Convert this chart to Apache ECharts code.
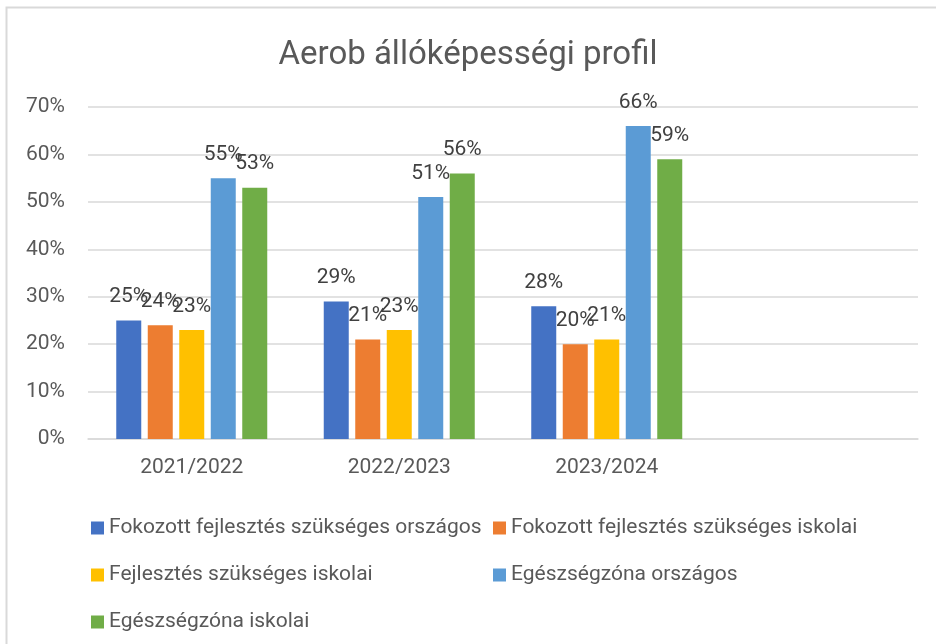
<!DOCTYPE html>
<html>
<head>
<meta charset="utf-8">
<title>Aerob állóképességi profil</title>
<script src="https://cdn.jsdelivr.net/npm/echarts@6/dist/echarts.min.js"></script>
<style>
  html, body { margin: 0; padding: 0; background: #fff; }
  #chart { width: 936px; height: 644px; }
</style>
</head>
<body>
<div id="chart"></div>
<script>
// tanévek (a negyedik kategória üres, mint az eredetin)
var categories = ['2021/2022', '2022/2023', '2023/2024', ''];
var seriesNames = [
  'Fokozott fejlesztés szükséges országos',
  'Fokozott fejlesztés szükséges iskolai',
  'Fejlesztés szükséges iskolai',
  'Egészségzóna országos',
  'Egészségzóna iskolai'
];
var fokozottOrszagos = [25, 29, 28];
var fokozottIskolai = [24, 21, 20];
var fejlesztesIskolai = [23, 23, 21];
var egeszsegOrszagos = [55, 51, 66];
var egeszsegIskolai = [53, 56, 59];
var yTicks = [0, 10, 20, 30, 40, 50, 60, 70];

var colors = ['#4472C4', '#ED7D31', '#FFC000', '#5B9BD5', '#70AD47'];
var values = [fokozottOrszagos, fokozottIskolai, fejlesztesIskolai, egeszsegOrszagos, egeszsegIskolai];
var font = 'Roboto, "Noto Sans", sans-serif';

var series = [];
for (var i = 0; i < seriesNames.length; i++) {
  series.push({
    name: seriesNames[i],
    type: 'bar',
    data: values[i],
    barWidth: 25,
    barGap: '26%',
    itemStyle: { color: colors[i] },
    label: {
      show: true,
      position: 'top',
      distance: 13,
      formatter: '{c}%',
      color: '#404040',
      fontSize: 21,
      fontFamily: font
    }
  });
}

var chart = echarts.init(document.getElementById('chart'));
chart.setOption({
  animation: false,
  color: colors,
  title: {
    text: 'Aerob állóképességi profil',
    left: 'center',
    top: 34,
    textStyle: { color: '#595959', fontSize: 33, fontWeight: 'normal', fontFamily: font }
  },
  graphic: [{
    type: 'rect',
    shape: { x: 6.5, y: 7.5, width: 960, height: 660 },
    style: { fill: 'none', stroke: '#D9D9D9', lineWidth: 2 },
    silent: true
  }],
  grid: { left: 88, right: 18, top: 107, bottom: 205 },
  xAxis: {
    type: 'category',
    data: categories,
    axisLine: { lineStyle: { color: '#D9D9D9', width: 1.5 } },
    axisTick: { show: false },
    axisLabel: { color: '#595959', fontSize: 21, margin: 18, fontFamily: font }
  },
  yAxis: {
    type: 'value',
    min: yTicks[0],
    max: yTicks[yTicks.length - 1],
    interval: 10,
    axisLine: { show: false },
    axisTick: { show: false },
    splitLine: { lineStyle: { color: '#D9D9D9', width: 1.5 } },
    axisLabel: { color: '#595959', fontSize: 21, margin: 23, formatter: '{value}%', fontFamily: font }
  },
  legend: [{
    orient: 'vertical',
    left: 86,
    top: 512,
    itemWidth: 13,
    itemHeight: 13,
    itemGap: 25,
    icon: 'rect',
    data: [seriesNames[0], seriesNames[2], seriesNames[4]],
    textStyle: { color: '#595959', fontSize: 21, lineHeight: 22, fontFamily: font }
  }, {
    orient: 'vertical',
    left: 488,
    top: 512,
    itemWidth: 13,
    itemHeight: 13,
    itemGap: 25,
    icon: 'rect',
    data: [seriesNames[1], seriesNames[3]],
    textStyle: { color: '#595959', fontSize: 21, lineHeight: 22, fontFamily: font }
  }],
  series: series
});
</script>
</body>
</html>
